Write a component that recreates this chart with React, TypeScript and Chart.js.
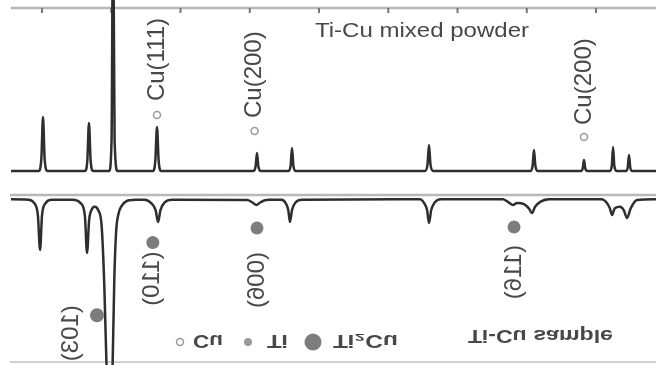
import React, { useEffect, useRef } from "react";
import { Chart, registerables } from "chart.js";

Chart.register(...registerables);

// ---- data (2θ in degrees, intensity in arbitrary units) ----
const mixedTwoTheta = [
  32.76,
  34.75, 34.95, 35.07, 35.19, 35.4,
  38.1, 38.27, 38.39, 38.51, 38.7,
  39.85, 40.02, 40.13, 40.24, 40.45,
  43.0, 43.18, 43.3, 43.42, 43.6,
  50.25, 50.42, 50.52, 50.62, 50.8,
  52.78, 52.95, 53.05, 53.15, 53.32,
  62.65, 62.83, 62.94, 63.05, 63.25,
  70.25, 70.42, 70.52, 70.62, 70.8,
  73.9, 74.04, 74.13, 74.22, 74.38,
  76.0, 76.14, 76.23, 76.32, 76.5,
  77.15, 77.29, 77.38, 77.47, 77.62,
  79.33,
];
const mixedIntensity = [
  1.8,
  1.8, 9, 34.3, 9, 1.8,
  1.8, 8, 30.7, 8, 1.8,
  1.8, 20, 160, 20, 1.8,
  1.8, 8, 28.3, 8, 1.8,
  1.8, 4.5, 12.7, 4.5, 1.8,
  1.8, 5, 15.7, 5, 1.8,
  1.8, 5.5, 17.5, 5.5, 1.8,
  1.8, 5, 14.5, 5, 1.8,
  1.8, 3.5, 8.4, 3.5, 1.8,
  1.8, 5, 16.3, 5, 1.8,
  1.8, 4, 11.4, 4, 1.8,
  1.8,
];

const sampleTwoTheta = [
  32.76, 34.0, 34.45, 34.7, 34.86, 35.0, 35.25, 35.7,
  37.2, 37.8, 38.1, 38.25, 38.4, 38.6, 38.8, 39.05, 39.3, 39.5, 39.65, 39.95, 40.1, 40.22, 40.35, 40.5, 40.8, 41.3,
  42.4, 42.9, 43.2, 43.38, 43.55, 43.85, 44.4,
  49.8, 50.2, 50.48, 50.75, 51.2,
  52.3, 52.6, 52.78, 52.9, 53.05, 53.3, 53.8,
  62.3, 62.6, 62.8, 62.94, 63.1, 63.35, 63.8,
  68.3, 68.7, 69.0, 69.3, 69.8, 70.15, 70.38, 70.6, 71.0, 71.6,
  75.4, 75.8, 76.0, 76.16, 76.35, 76.73, 77.0, 77.24, 77.5, 77.96,
  79.33,
];
const sampleIntensity = [
  2.6, 2.8, 5, 12, 33, 12, 5, 2.8,
  2.8, 5, 13, 34.7, 15, 8.5, 7, 9, 18, 55, 100, 135, 100, 50, 22, 12, 6, 3.2,
  2.8, 5, 9, 16.2, 9, 4.5, 2.8,
  3, 4.5, 6, 4.5, 3,
  2.8, 5, 9, 16.2, 9, 4.5, 2.8,
  2.6, 5, 9, 16.8, 9, 4.5, 2.6,
  2.6, 4.5, 6, 4.8, 5.5, 8, 10.8, 7, 4, 2.6,
  2.6, 5, 8, 12, 8, 7, 9, 13.8, 8, 3,
  2.6,
];

const xMin = 32.76;
const xMax = 79.33;
const topTicks = [35, 40, 45, 50, 55, 60, 65, 70, 75];

const mixedTitle = "Ti-Cu mixed powder";
const mixedMarkerText = ["Cu(111)", "Cu(200)", "Cu(200)"];
const mixedMarkerTwoTheta = [43.3, 50.35, 74.13];
const mixedMarkerLevel = [35.5, 25.9, 22.3];

const sampleTitle = "Ti-Cu sample";
const sampleMarkerText = ["(103)", "(110)", "(006)", "(116)"];
const sampleMarkerTwoTheta = [38.97, 43.0, 50.52, 69.08];
const sampleMarkerLevel = [72, 28.5, 19.8, 19.2];

const legendLabels = ["Cu", "Ti", "Ti₂Cu"];

// ---- styling / layout ----
const FONT = "'Liberation Sans', Arial, Helvetica, sans-serif";
const LINE = "#2e2e2e";
const TEXT = "#484848";
const FRAME = "#b8b8b8";
const mixedGap = [14, 13, 12];
const sampleGap = [-10, 9, 24, 18];
const sampleDx = [-26, 0, 0, 0];

function fillFit(ctx: CanvasRenderingContext2D, text: string, x: number, y: number, w: number) {
  const m = ctx.measureText(text).width;
  ctx.save();
  ctx.translate(x, y);
  ctx.scale(w / m, 1);
  ctx.fillText(text, 0, 0);
  ctx.restore();
}

function rotatedLabel(ctx: CanvasRenderingContext2D, text: string, x: number, y: number) {
  ctx.save();
  ctx.translate(x, y);
  ctx.rotate(-Math.PI / 2);
  ctx.font = `24px ${FONT}`;
  ctx.fillStyle = TEXT;
  ctx.textAlign = "left";
  ctx.textBaseline = "middle";
  ctx.fillText(text, 0, 0);
  ctx.restore();
}

function baseConfig(xs: number[], ys: number[], padding: any, plugin: any): any {
  return {
    type: "line",
    data: {
      datasets: [
        {
          data: xs.map((x, i) => ({ x, y: ys[i] })),
          borderColor: LINE,
          borderWidth: 2.5,
          pointRadius: 0,
          cubicInterpolationMode: "monotone",
          clip: false,
        },
      ],
    },
    options: {
      responsive: false,
      maintainAspectRatio: false,
      animation: false,
      events: [],
      layout: { padding },
      plugins: { legend: { display: false }, tooltip: { enabled: false } },
      scales: {
        x: { type: "linear", min: xMin, max: xMax, display: false },
        y: { min: 0, max: 100, display: false },
      },
    },
    plugins: [plugin],
  };
}

const mixedPlugin = {
  id: "mixedDeco",
  beforeDatasetsDraw(chart: any) {
    const { ctx, chartArea: a, scales } = chart;
    ctx.save();
    ctx.strokeStyle = FRAME;
    ctx.lineWidth = 2.5;
    ctx.beginPath();
    ctx.moveTo(a.left, a.top);
    ctx.lineTo(a.right, a.top);
    ctx.stroke();
    ctx.strokeStyle = "#777";
    ctx.lineWidth = 2;
    for (const t of topTicks) {
      const px = scales.x.getPixelForValue(t);
      ctx.beginPath();
      ctx.moveTo(px, a.top);
      ctx.lineTo(px, a.top + 5);
      ctx.stroke();
    }
    ctx.restore();
  },
  afterDatasetsDraw(chart: any) {
    const { ctx, scales } = chart;
    ctx.save();
    mixedMarkerText.forEach((txt, i) => {
      const px = scales.x.getPixelForValue(mixedMarkerTwoTheta[i]);
      const py = scales.y.getPixelForValue(mixedMarkerLevel[i]);
      ctx.strokeStyle = "#999";
      ctx.lineWidth = 1.5;
      ctx.beginPath();
      ctx.arc(px, py, 3.5, 0, Math.PI * 2);
      ctx.stroke();
      rotatedLabel(ctx, txt, px, py - mixedGap[i]);
    });
    ctx.font = `20px ${FONT}`;
    ctx.fillStyle = TEXT;
    ctx.textBaseline = "alphabetic";
    fillFit(ctx, mixedTitle, 315, 37, 214);
    ctx.restore();
  },
};

const samplePlugin = {
  id: "sampleDeco",
  beforeDatasetsDraw(chart: any) {
    const { ctx, chartArea: a } = chart;
    ctx.save();
    ctx.strokeStyle = FRAME;
    ctx.lineWidth = 2.5;
    ctx.beginPath();
    ctx.moveTo(a.left - 1, a.bottom);
    ctx.lineTo(a.right, a.bottom);
    ctx.stroke();
    ctx.strokeStyle = "#d0d0d0";
    ctx.lineWidth = 2;
    ctx.beginPath();
    ctx.moveTo(a.left - 1, a.top);
    ctx.lineTo(a.right, a.top);
    ctx.stroke();
    ctx.restore();
  },
  afterDatasetsDraw(chart: any) {
    const { ctx, scales } = chart;
    ctx.save();
    sampleMarkerText.forEach((txt, i) => {
      const px = scales.x.getPixelForValue(sampleMarkerTwoTheta[i]);
      const py = scales.y.getPixelForValue(sampleMarkerLevel[i]);
      ctx.fillStyle = "#7d7d7d";
      ctx.beginPath();
      ctx.arc(px, py, i === 0 ? 7 : 6.5, 0, Math.PI * 2);
      ctx.fill();
      rotatedLabel(ctx, txt, px + sampleDx[i], py - sampleGap[i]);
    });
    // legend
    const ly = 23;
    ctx.strokeStyle = "#9a9a9a";
    ctx.lineWidth = 1.5;
    ctx.beginPath();
    ctx.arc(180, ly, 3.5, 0, Math.PI * 2);
    ctx.stroke();
    ctx.fillStyle = "#9a9a9a";
    ctx.beginPath();
    ctx.arc(248, ly, 4, 0, Math.PI * 2);
    ctx.fill();
    ctx.fillStyle = "#7d7d7d";
    ctx.beginPath();
    ctx.arc(313, ly, 8.5, 0, Math.PI * 2);
    ctx.fill();
    ctx.font = `bold 18px ${FONT}`;
    ctx.fillStyle = TEXT;
    ctx.textBaseline = "alphabetic";
    fillFit(ctx, legendLabels[0], 193, 30, 30);
    fillFit(ctx, legendLabels[1], 267, 30, 21);
    fillFit(ctx, legendLabels[2], 333, 30, 65);
    ctx.font = `bold 19px ${FONT}`;
    fillFit(ctx, sampleTitle, 468, 35, 145);
    ctx.restore();
  },
};

export default function App() {
  const topRef = useRef<HTMLCanvasElement | null>(null);
  const botRef = useRef<HTMLCanvasElement | null>(null);

  useEffect(() => {
    const c1 = new Chart(
      topRef.current as HTMLCanvasElement,
      baseConfig(mixedTwoTheta, mixedIntensity, { left: 11, right: 0, top: 8, bottom: 6 }, mixedPlugin)
    );
    const c2 = new Chart(
      botRef.current as HTMLCanvasElement,
      baseConfig(sampleTwoTheta, sampleIntensity, { left: 11, right: 0, top: 3, bottom: 5 }, samplePlugin)
    );
    return () => {
      c1.destroy();
      c2.destroy();
    };
  }, []);

  return (
    <div style={{ position: "absolute", left: 0, top: 0, width: 656, height: 365, background: "#fff", overflow: "hidden" }}>
      <canvas
        ref={topRef}
        width={656}
        height={180}
        style={{ position: "absolute", left: 0, top: 0, width: 656, height: 180, filter: "blur(0.7px)" }}
      />
      <canvas
        ref={botRef}
        width={656}
        height={175}
        style={{
          position: "absolute",
          left: 0,
          top: 190,
          width: 656,
          height: 175,
          transform: "scaleY(-1)",
          filter: "blur(0.7px)",
        }}
      />
    </div>
  );
}
